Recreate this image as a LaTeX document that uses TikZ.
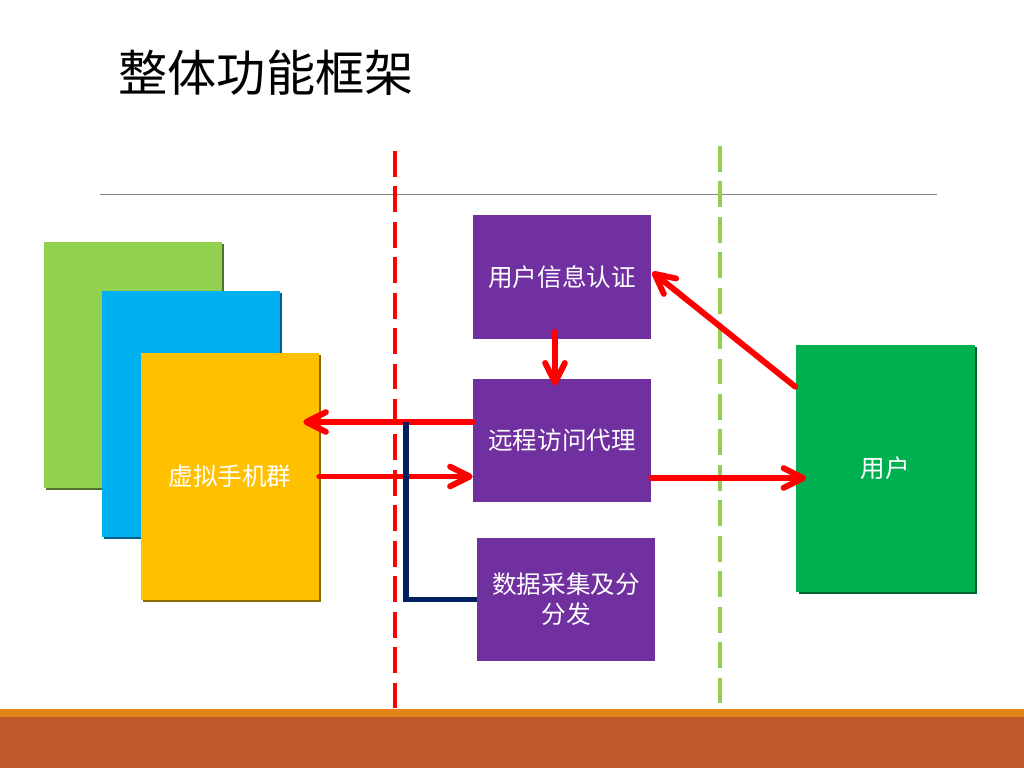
\documentclass[tikz,border=0pt]{standalone}
\usepackage{fontspec}
\setmainfont{Noto Sans CJK SC}
\usetikzlibrary{arrows.meta,calc,shadows}
\definecolor{leafgreen}{HTML}{92D050}
\definecolor{skyblue}{HTML}{00B0F0}
\definecolor{amber}{HTML}{FFC000}
\definecolor{grape}{HTML}{7030A0}
\definecolor{usergreen}{HTML}{00B050}
\definecolor{flow}{HTML}{FF0000}
\definecolor{navy}{HTML}{002060}
\definecolor{rule}{HTML}{808080}
\definecolor{barorange}{HTML}{E2841A}
\definecolor{barbrown}{HTML}{BE5A2C}
\tikzset{
  slab/.style={fill=#1,minimum width=4.45cm,minimum height=6.15cm,inner sep=0pt,text=white,
    font=\fontsize{17.5}{21}\selectfont,
    drop shadow={shadow xshift=1.5pt,shadow yshift=-1.5pt,fill=#1!55!black,opacity=1}},
  module/.style={fill=grape,minimum width=4.45cm,minimum height=3.08cm,inner sep=0pt,
    text=white,align=center,font=\fontsize{17.5}{21.3}\selectfont},
  flowarr/.style={-{Straight Barb[length=14pt,width=14pt,round]},line width=4.2pt,
    draw=flow,line cap=round},
  tierline/.style={line width=2.4pt,draw=#1,dash pattern=on 18.4pt off 6.8pt},
}
\begin{document}
\begin{tikzpicture}[x=0.025cm,y=-0.025cm]
    \fill[white] (0,0) rectangle (1024,768);
    \useasboundingbox (0,0) rectangle (1024,768);
    \fill[barorange] (0,709) rectangle (1024,717);
    \fill[barbrown] (0,717) rectangle (1024,768);
    \node[font=\fontsize{35}{40}\selectfont] (title) at (266,73) {整体功能框架};
    \draw[rule,line width=0.7pt] (100,194) -- (937,194);
    \draw[tierline=flow] (395,151) -- (395,711);
    \draw[tierline=leafgreen] (720,146) -- (720,706);
    \foreach \n/\c/\x/\y in {back/leafgreen/133/365,mid/skyblue/191/414}
      \node[slab=\c] (\n) at (\x,\y) {};
    \node[slab=amber,minimum height=6.175cm] (phones) at (230,476.5) {虚拟手机群};
    \node[module] (auth) at (562,277) {用户信息认证};
    \node[module] (proxy) at (562,440.5) {远程访问代理};
    \node[module] (collect) at (566,599.5) {数据采集及分\\分发};
    \node[slab=usergreen,minimum height=6.175cm] (user) at (885.5,468.5) {用户};
    \coordinate (tap) at (406,422);
    \draw[flowarr] ($(auth.south)+(-7,-7)$) -- ($(proxy.north)+(-7,7)$);
    \draw[flowarr,shorten >=-0.4cm] (proxy.west |- tap) -- (phones.east |- tap);
    \draw[flowarr] (phones.east) -- (phones.east -| proxy.west);
    \draw[flowarr,shorten >=-0.25cm] ($(proxy.east)+(0,37.5)$) -- ($(user.west)+(0,9.5)$);
    \draw[flowarr] ($(user.north west)+(-1,42)$) -- ($(auth.east)+(1,-5)$);
    \draw[navy,line width=4pt] (tap) |- (collect.west);
  \end{tikzpicture}
\end{document}
